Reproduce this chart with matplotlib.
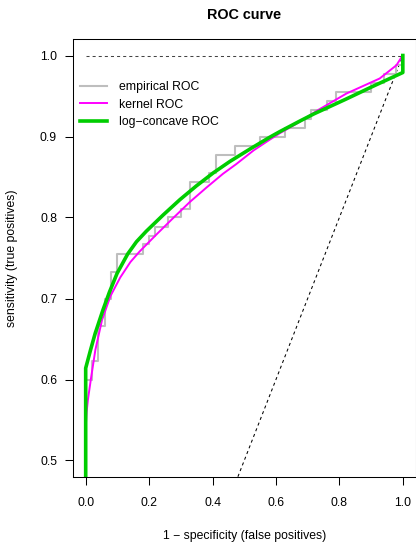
import numpy as np
import matplotlib
matplotlib.use("Agg")
import matplotlib.pyplot as plt

plt.rcParams['font.family'] = ['Liberation Sans', 'DejaVu Sans']
plt.rcParams['lines.scale_dashes'] = False

# empirical ROC: step levels (tpr, in 90ths) starting at each fpr
emp_fpr = [0.0, 0.0, 0.02, 0.04, 0.06, 0.08, 0.10, 0.18, 0.20, 0.22, 0.26, 0.30,
           0.33, 0.39, 0.41, 0.47, 0.55, 0.63, 0.69, 0.71, 0.76, 0.79, 0.90,
           0.94, 0.98, 1.0]
emp_count = [0, 54, 56, 60, 63, 66, 68, 69, 70, 71, 72, 73, 76, 77, 79, 80, 81,
             82, 83, 84, 85, 86, 87, 88, 89, 90]
n_pos = 90

# kernel ROC
kern_fpr = [0.0, 0.0, 0.003, 0.007, 0.0168, 0.0305, 0.0515, 0.078, 0.109,
            0.141, 0.170, 0.223, 0.275, 0.328, 0.381, 0.433, 0.475, 0.53, 0.58,
            0.612, 0.675, 0.73, 0.822, 0.927, 0.98, 0.996, 1.0]
kern_tpr = [0.40, 0.54, 0.56, 0.575, 0.6016, 0.6365, 0.6735, 0.703, 0.726,
            0.745, 0.758, 0.779, 0.799, 0.819, 0.837, 0.854, 0.866, 0.883, 0.896,
            0.904, 0.918, 0.932, 0.953, 0.9716, 0.988, 0.998, 1.0]

# log-concave ROC
lc_fpr = [0.0, 0.0, 0.015, 0.030, 0.0546, 0.075, 0.099, 0.1325, 0.16, 0.191,
          0.244, 0.297, 0.349, 0.402, 0.454, 0.52, 0.58, 0.612, 0.675, 0.72,
          0.82, 0.906, 1.0, 1.0]
lc_tpr = [0.40, 0.614, 0.636, 0.657, 0.686, 0.708, 0.731, 0.755, 0.770, 0.783,
          0.803, 0.822, 0.839, 0.855, 0.869, 0.885, 0.899, 0.906, 0.919, 0.928,
          0.946, 0.962, 0.979, 1.0]

W, H = 416, 544
fig = plt.figure(figsize=(W / 100, H / 100), dpi=100)
ax = fig.add_axes([73 / W, 1 - 476.7 / H, 342.5 / W, (476.7 - 39.3) / H])

dots = (0, (2.2, 2.2))
ax.plot([0, 1], [1, 1], color='#444444', lw=0.75, linestyle=dots)
ax.plot([0, 1], [0, 1], color='black', lw=0.75, linestyle=dots)

emp_tpr = np.array(emp_count) / n_pos
ax.plot(emp_fpr, emp_tpr, drawstyle='steps-post', color='#BEBEBE', lw=1.5,
        label='empirical ROC')
ax.plot(kern_fpr, kern_tpr, color='#FF00FF', lw=1.4, label='kernel ROC')
ax.plot(lc_fpr, lc_tpr, color='#00CD00', lw=2.6, label='log\u2212concave ROC')

ax.set_xlim(-0.04, 1.04)
ax.set_ylim(0.48, 1.02)
ax.set_xticks([0.0, 0.2, 0.4, 0.6, 0.8, 1.0])
ax.set_yticks([0.5, 0.6, 0.7, 0.8, 0.9, 1.0])
ax.set_xticklabels(['0.0', '0.2', '0.4', '0.6', '0.8', '1.0'])
ax.set_yticklabels(['0.5', '0.6', '0.7', '0.8', '0.9', '1.0'])
ax.tick_params(direction='out', length=5.5, width=0.75, labelsize=8.8,
               colors='black')
ax.tick_params(axis='x', pad=9)
ax.tick_params(axis='y', pad=6)
for s in ax.spines.values():
    s.set_linewidth(0.75)

ax.legend(loc='upper left', bbox_to_anchor=(80 / W, 1 - 81 / H),
          bbox_transform=fig.transFigure, frameon=False, fontsize=8.8,
          handlelength=2.2, handletextpad=1.0, labelspacing=0.45,
          borderpad=0, borderaxespad=0)

fig.text(244.5 / W, 1 - 15 / H, 'ROC curve', ha='center', va='center',
         fontsize=10.4, fontweight='bold')
fig.text(244.5 / W, 1 - 536.5 / H, '1 \u2212 specificity (false positives)',
         ha='center', va='center', fontsize=8.8)
fig.text(12 / W, 1 - 258 / H, 'sensitivity (true positives)', ha='center',
         va='center', rotation=90, fontsize=8.8)

fig.savefig('out.png', dpi=100)
